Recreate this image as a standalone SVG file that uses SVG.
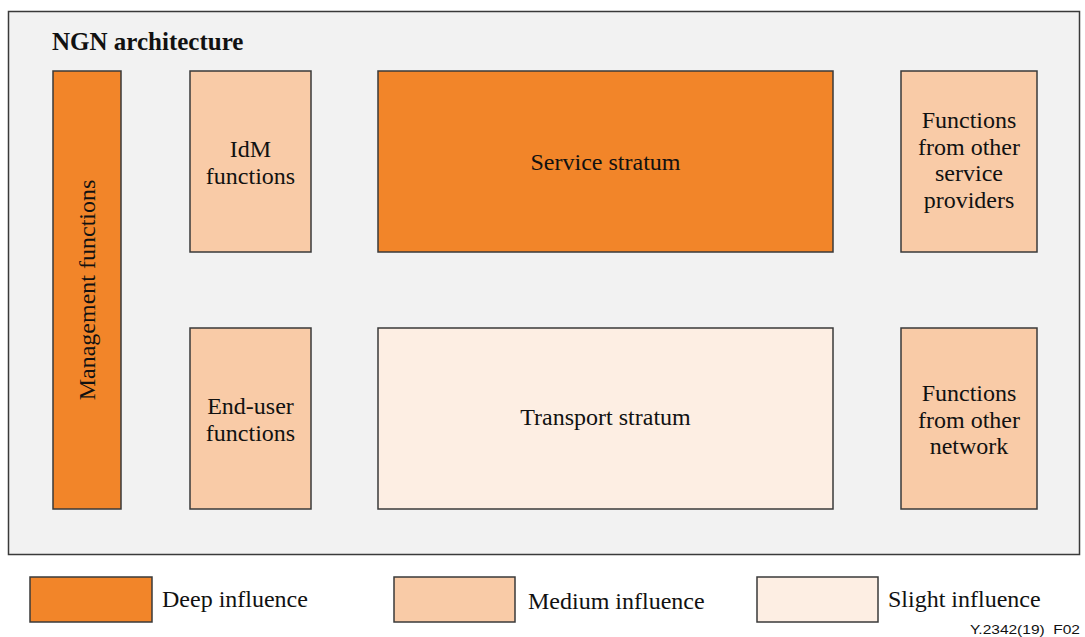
<svg xmlns="http://www.w3.org/2000/svg" width="1085" height="637" viewBox="0 0 1085 637">
<style>
.box{stroke:#3a3a3a;stroke-width:1.5}
.deep{fill:#F28529}
.med{fill:#F9CBA7}
.slight{fill:#FDEEE3}
text{font-family:"Liberation Serif","Times New Roman",serif;font-size:24px;fill:#111}
.c{text-anchor:middle}
</style>
<rect x="8.5" y="11.5" width="1071" height="543" fill="#F2F2F2" stroke="#3a3a3a" stroke-width="1.5"/>
<text x="52" y="50" style="font-weight:bold;font-size:25px">NGN architecture</text>
<g id="management">
<rect class="box deep" x="53" y="71" width="68" height="438"/>
<text class="c" transform="translate(95,290) rotate(-90)">Management functions</text>
</g>
<g id="idm">
<rect class="box med" x="190" y="71" width="121" height="181"/>
<text class="c" x="250.5" y="157">IdM</text>
<text class="c" x="250.5" y="184">functions</text>
</g>
<g id="service">
<rect class="box deep" x="378" y="71" width="455" height="181"/>
<text class="c" x="605.5" y="170">Service stratum</text>
</g>
<g id="other-sp">
<rect class="box med" x="901" y="71" width="136" height="181"/>
<text class="c" x="969" y="128">Functions</text>
<text class="c" x="969" y="155">from other</text>
<text class="c" x="969" y="181">service</text>
<text class="c" x="969" y="208">providers</text>
</g>
<g id="end-user">
<rect class="box med" x="190" y="328" width="121" height="181"/>
<text class="c" x="250.5" y="414">End-user</text>
<text class="c" x="250.5" y="441">functions</text>
</g>
<g id="transport">
<rect class="box slight" x="378" y="328" width="455" height="181"/>
<text class="c" x="605.5" y="425">Transport stratum</text>
</g>
<g id="other-net">
<rect class="box med" x="901" y="328" width="136" height="181"/>
<text class="c" x="969" y="401">Functions</text>
<text class="c" x="969" y="428">from other</text>
<text class="c" x="969" y="454">network</text>
</g>
<g id="connectors"></g>
<g id="legend">
<rect class="box deep" x="30" y="577" width="122" height="45"/>
<text x="162" y="607">Deep influence</text>
<rect class="box med" x="394" y="577" width="121" height="45"/>
<text x="528" y="609">Medium influence</text>
<rect class="box slight" x="757" y="577" width="121" height="45"/>
<text x="888" y="607">Slight influence</text>
<text x="970" y="634" textLength="110" lengthAdjust="spacingAndGlyphs" xml:space="preserve" style="font-family:'Liberation Sans',Arial,sans-serif;font-size:13px">Y.2342(19)  F02</text>
</g>
</svg>
